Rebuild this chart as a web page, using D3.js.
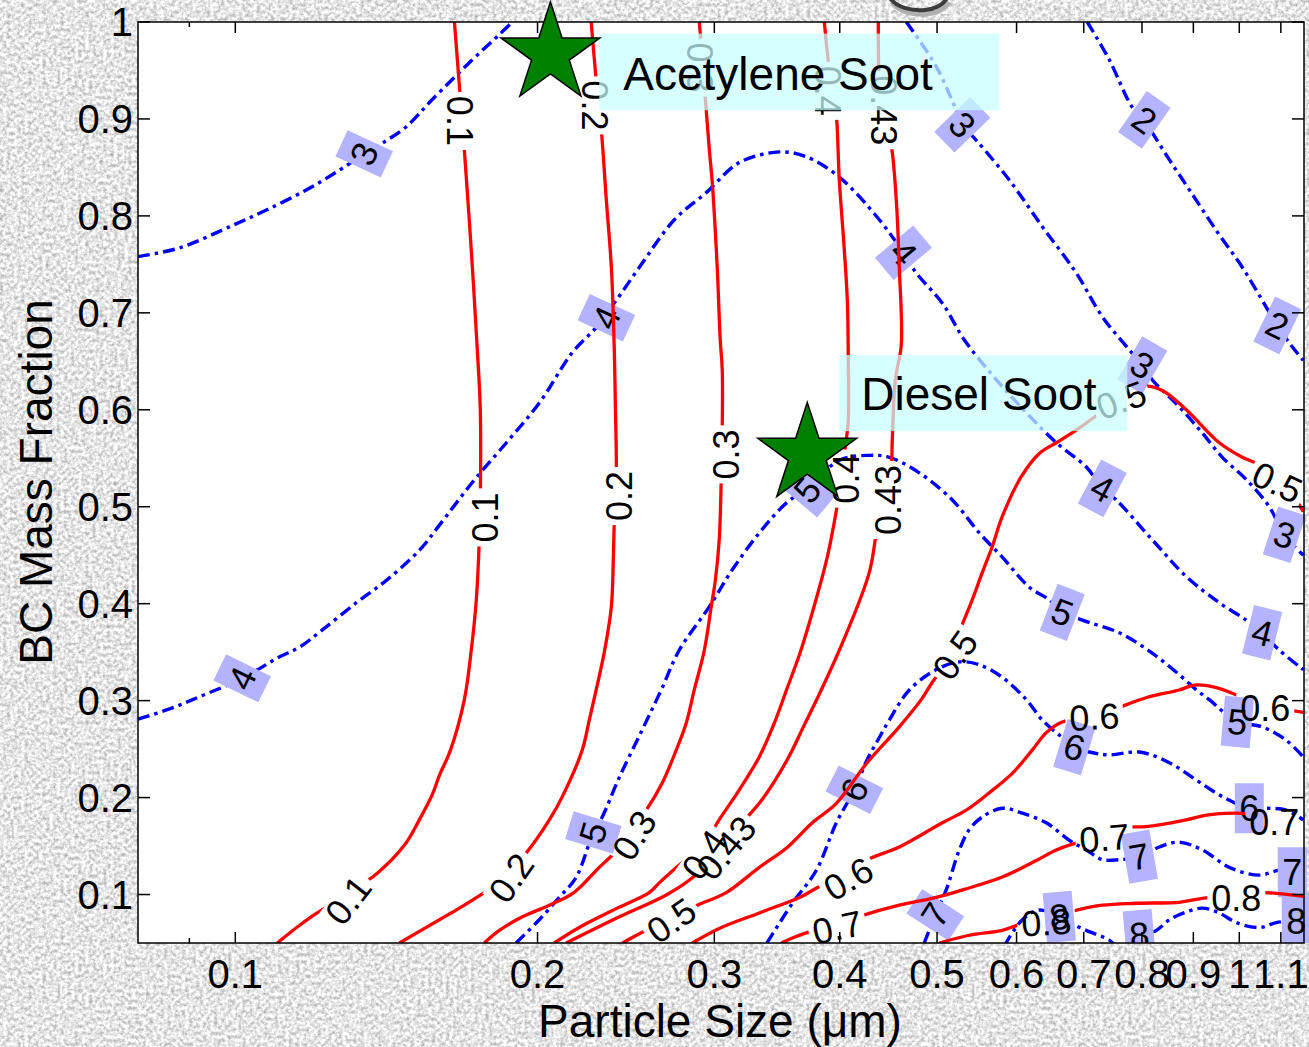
<!DOCTYPE html>
<html><head><meta charset="utf-8">
<script src="https://cdn.jsdelivr.net/npm/d3@7"></script>
<style>html,body{margin:0;padding:0;overflow:hidden;background:#ddd}</style>
</head><body>
<svg id="chart" width="1309" height="1047"></svg>
<script>
// ---------------- DATA (particle size in µm, BC mass fraction) ----------------
const xTicks = [0.1,0.2,0.3,0.4,0.5,0.6,0.7,0.8,0.9,1,1.1];
const xTickLabels = ["0.1","0.2","0.3","0.4","0.5","0.6","0.7","0.8","0.9","1","1.1"];
const xMinorTicks = [0.09];
const yTicks = [0.1,0.2,0.3,0.4,0.5,0.6,0.7,0.8,0.9,1];
const yTickLabels = ["0.1","0.2","0.3","0.4","0.5","0.6","0.7","0.8","0.9","1"];

// red (solid) contours
const c_0_1 = [[0.1653,1.000],[0.1676,0.920],[0.1691,0.868],[0.1718,0.765],[0.1742,0.662],[0.1754,0.600],[0.1754,0.507],[0.1750,0.466],[0.1738,0.404],[0.1718,0.352],[0.1691,0.301],[0.1638,0.249],[0.1597,0.223],[0.1571,0.203],[0.1525,0.177],[0.1474,0.151],[0.1385,0.122],[0.1278,0.097],[0.1198,0.079],[0.1158,0.068],[0.1101,0.050]];
const c_0_2 = [[0.2262,1.000],[0.2288,0.940],[0.2315,0.889],[0.2342,0.816],[0.2369,0.747],[0.2385,0.662],[0.2391,0.603],[0.2396,0.538],[0.2385,0.486],[0.2380,0.448],[0.2369,0.397],[0.2331,0.350],[0.2288,0.311],[0.2252,0.280],[0.2216,0.249],[0.2117,0.201],[0.2055,0.177],[0.1949,0.143],[0.1819,0.110],[0.1770,0.102],[0.1672,0.086],[0.1597,0.074],[0.1457,0.050]];
const c_0_3 = [[0.2898,1.000],[0.2925,0.951],[0.2945,0.909],[0.2966,0.868],[0.2986,0.834],[0.3020,0.747],[0.3041,0.672],[0.3055,0.641],[0.3055,0.579],[0.3048,0.528],[0.3034,0.466],[0.3007,0.424],[0.2979,0.397],[0.2932,0.352],[0.2865,0.311],[0.2813,0.277],[0.2749,0.249],[0.2662,0.215],[0.2566,0.187],[0.2469,0.165],[0.2385,0.143],[0.2304,0.128],[0.2174,0.102],[0.2055,0.089],[0.1932,0.077],[0.1832,0.063],[0.1770,0.050]];
const c_0_4 = [[0.3861,1.000],[0.3905,0.951],[0.3941,0.925],[0.3969,0.904],[0.3996,0.837],[0.4042,0.765],[0.4070,0.713],[0.4079,0.651],[0.4079,0.590],[0.4042,0.553],[0.4014,0.528],[0.3978,0.502],[0.3887,0.448],[0.3730,0.380],[0.3646,0.347],[0.3540,0.311],[0.3443,0.277],[0.3326,0.242],[0.3177,0.208],[0.3020,0.174],[0.2932,0.151],[0.2787,0.133],[0.2644,0.112],[0.2584,0.102],[0.2413,0.087],[0.2201,0.066],[0.2078,0.050]];
const c_0_43 = [[0.4370,1.000],[0.4380,0.940],[0.4420,0.909],[0.4502,0.873],[0.4554,0.816],[0.4585,0.747],[0.4606,0.667],[0.4544,0.631],[0.4512,0.569],[0.4502,0.541],[0.4440,0.507],[0.4360,0.478],[0.4280,0.432],[0.4023,0.359],[0.3834,0.311],[0.3688,0.275],[0.3546,0.239],[0.3348,0.198],[0.3199,0.174],[0.3091,0.153],[0.2859,0.118],[0.2687,0.0995],[0.2413,0.077],[0.2136,0.050]];
const c_0_5 = [[0.2430,0.050],[0.2543,0.061],[0.2719,0.076],[0.2885,0.089],[0.3083,0.102],[0.3326,0.128],[0.3540,0.148],[0.3756,0.174],[0.3969,0.194],[0.4259,0.236],[0.4585,0.273],[0.4822,0.301],[0.4946,0.319],[0.5142,0.344],[0.5286,0.376],[0.5420,0.404],[0.5546,0.432],[0.5675,0.459],[0.5807,0.490],[0.6065,0.531],[0.6321,0.555],[0.6573,0.566],[0.6881,0.579],[0.7388,0.602],[0.7629,0.610],[0.7824,0.618],[0.8005,0.624],[0.8381,0.620],[0.8855,0.600],[0.9552,0.566],[1.0069,0.551],[1.0469,0.543],[1.0910,0.525],[1.1139,0.520],[1.158,0.495]];
const c_0_6 = [[0.2852,0.050],[0.3034,0.065],[0.3326,0.081],[0.3646,0.097],[0.3852,0.110],[0.4070,0.117],[0.4231,0.134],[0.4585,0.149],[0.5061,0.174],[0.5346,0.187],[0.5636,0.205],[0.5942,0.225],[0.6220,0.249],[0.6424,0.267],[0.6663,0.278],[0.7170,0.283],[0.7594,0.293],[0.8077,0.303],[0.8715,0.311],[0.9021,0.316],[0.9443,0.314],[0.9932,0.306],[1.0614,0.292],[1.1215,0.290],[1.158,0.288]];
const c_0_7 = [[0.3498,0.050],[0.3604,0.056],[0.3773,0.063],[0.3996,0.070],[0.4202,0.078],[0.4585,0.089],[0.4991,0.097],[0.5310,0.105],[0.5807,0.118],[0.6278,0.135],[0.6573,0.146],[0.6929,0.154],[0.7338,0.160],[0.7718,0.169],[0.8077,0.170],[0.8855,0.177],[0.9271,0.182],[0.9932,0.184],[1.0398,0.182],[1.0836,0.177],[1.1215,0.175],[1.158,0.175]];
const c_0_8 = [[0.5026,0.050],[0.5384,0.058],[0.5807,0.063],[0.6038,0.069],[0.6394,0.074],[0.6771,0.082],[0.7304,0.089],[0.7896,0.091],[0.8715,0.092],[0.9188,0.096],[0.9932,0.099],[1.0517,0.102],[1.158,0.098]];

// blue (dash-dot) contours
const c_2 = [[0.7057,1.000],[0.7422,0.961],[0.7824,0.912],[0.8043,0.899],[0.8189,0.886],[0.8517,0.858],[0.8917,0.827],[0.9486,0.785],[1.0069,0.747],[1.0636,0.706],[1.0910,0.687],[1.1291,0.665],[1.158,0.651]];
const c_3a = [[0.0800,0.758],[0.0880,0.767],[0.0993,0.790],[0.1074,0.806],[0.1178,0.827],[0.1269,0.847],[0.1344,0.864],[0.1401,0.875],[0.1480,0.892],[0.1571,0.920],[0.1722,0.961],[0.1832,0.987],[0.1888,1.000]];
const c_3b = [[0.4660,1.000],[0.4991,0.954],[0.5225,0.909],[0.5298,0.894],[0.5471,0.878],[0.5901,0.837],[0.6364,0.789],[0.6881,0.741],[0.7304,0.696],[0.7770,0.662],[0.8005,0.646],[0.8189,0.631],[0.8715,0.603],[0.9188,0.576],[0.9618,0.551],[1.0162,0.528],[1.0712,0.500],[1.1087,0.471],[1.158,0.450]];
const c_4 = [[0.0800,0.281],[0.0863,0.292],[0.0921,0.304],[0.1016,0.323],[0.1106,0.345],[0.1158,0.355],[0.1221,0.373],[0.1320,0.401],[0.1414,0.424],[0.1525,0.455],[0.1597,0.481],[0.1722,0.525],[0.1862,0.566],[0.2008,0.607],[0.2166,0.659],[0.2288,0.685],[0.2342,0.700],[0.2396,0.713],[0.2526,0.747],[0.2737,0.796],[0.2945,0.824],[0.3177,0.855],[0.3482,0.866],[0.3705,0.861],[0.3996,0.840],[0.4380,0.796],[0.4629,0.762],[0.4768,0.741],[0.5061,0.710],[0.5323,0.672],[0.5728,0.631],[0.6136,0.597],[0.6573,0.566],[0.7041,0.541],[0.7304,0.519],[0.7542,0.507],[0.8189,0.466],[0.8855,0.428],[0.9552,0.401],[1.0162,0.383],[1.0539,0.370],[1.0961,0.352],[1.158,0.332]];
const c_5 = [[0.1904,0.050],[0.2008,0.074],[0.2102,0.097],[0.2186,0.118],[0.2273,0.164],[0.2320,0.180],[0.2413,0.221],[0.2543,0.270],[0.2656,0.311],[0.2768,0.352],[0.2966,0.397],[0.3126,0.435],[0.3326,0.473],[0.3540,0.504],[0.3713,0.519],[0.3996,0.548],[0.4280,0.553],[0.4481,0.551],[0.4800,0.535],[0.5178,0.507],[0.5509,0.473],[0.5807,0.448],[0.6178,0.417],[0.6468,0.404],[0.6663,0.391],[0.6977,0.383],[0.7594,0.370],[0.8189,0.349],[0.8775,0.324],[0.9063,0.311],[0.9335,0.301],[0.9955,0.278],[1.0539,0.273],[1.1139,0.259],[1.158,0.242]];
const c_6 = [[0.3385,0.050],[0.3588,0.091],[0.3791,0.125],[0.3969,0.174],[0.4136,0.208],[0.4259,0.239],[0.4380,0.262],[0.4481,0.280],[0.4692,0.311],[0.4991,0.332],[0.5262,0.340],[0.5509,0.337],[0.5807,0.324],[0.6136,0.301],[0.6364,0.280],[0.6663,0.262],[0.6850,0.252],[0.7089,0.247],[0.7422,0.244],[0.7951,0.247],[0.8517,0.236],[0.9063,0.218],[0.9618,0.201],[1.0232,0.189],[1.0636,0.189],[1.1139,0.187],[1.158,0.177]];
const c_7 = [[0.4855,0.050],[0.4980,0.079],[0.5107,0.105],[0.5262,0.146],[0.5384,0.167],[0.5546,0.180],[0.5807,0.189],[0.6080,0.184],[0.6424,0.174],[0.6771,0.156],[0.7041,0.146],[0.7304,0.136],[0.7594,0.136],[0.7951,0.139],[0.8324,0.149],[0.8715,0.154],[0.9188,0.146],[0.9773,0.128],[1.0469,0.120],[1.0961,0.125],[1.1291,0.123],[1.158,0.125]];
const c_8 = [[0.5834,0.047],[0.6080,0.074],[0.6321,0.084],[0.6618,0.077],[0.6771,0.071],[0.7041,0.063],[0.7422,0.053],[0.7594,0.045],[0.7951,0.057],[0.8267,0.063],[0.8517,0.074],[0.8855,0.082],[0.9188,0.086],[0.9552,0.081],[0.9932,0.071],[1.0469,0.066],[1.0885,0.071],[1.1395,0.074],[1.158,0.079]];

const redLevels = ["0.1","0.2","0.3","0.4","0.43","0.5","0.6","0.7","0.8"];
const redLines = [c_0_1,c_0_2,c_0_3,c_0_4,c_0_43,c_0_5,c_0_6,c_0_7,c_0_8];
const blueLines = [c_2,c_3a,c_3b,c_4,c_5,c_6,c_7,c_8];

// contour labels: [level, size, fraction, rotation in degrees]
const redLabels = [
 ["0.1",0.1672,0.898,90],["0.1",0.1775,0.489,-90],["0.1",0.1296,0.094,-52],
 ["0.2",0.2278,0.914,90],["0.2",0.2413,0.511,-90],["0.2",0.1883,0.117,-55],
 ["0.3",0.2898,0.953,90],["0.3",0.3083,0.554,-90],["0.3",0.2497,0.161,-58],
 ["0.4",0.3887,0.929,90],["0.4",0.4061,0.529,-90],["0.4",0.2932,0.141,-55],
 ["0.43",0.4420,0.909,90],["0.43",0.4471,0.507,-90],["0.43",0.3083,0.148,-50],
 ["0.5",0.2719,0.073,-35],["0.5",0.5213,0.347,-55],["0.5",0.7629,0.610,-20],["0.5",1.0910,0.525,25],
 ["0.6",0.4080,0.116,-30],["0.6",0.7170,0.283,-3],["0.6",1.0614,0.292,0],
 ["0.7",0.3978,0.066,-12],["0.7",0.7338,0.158,-5],["0.7",1.0836,0.174,0],
 ["0.8",0.6424,0.071,-3],["0.8",0.9932,0.096,0]
];
const blueLabels = [
 ["3",0.1344,0.864,-65],["3",0.5298,0.894,46],["3",0.8005,0.646,30],["3",1.1087,0.471,18],
 ["2",0.8043,0.899,35],["2",1.0910,0.687,26],
 ["4",0.1016,0.323,-64],["4",0.2342,0.695,-65],["4",0.4629,0.762,50],["4",0.7304,0.519,28],["4",1.0539,0.370,14],
 ["5",0.2273,0.164,-73],["5",0.3713,0.517,-50],["5",0.6663,0.391,21],["5",0.9955,0.278,5],
 ["6",0.4136,0.208,-63],["6",0.6850,0.252,17],["6",1.0232,0.189,0],
 ["7",0.4980,0.079,-57],["7",0.7951,0.139,-10],["7",1.1291,0.123,0],
 ["8",0.6618,0.077,-5],["8",0.7951,0.058,-5],["8",1.1395,0.072,0]
];

// markers and annotations
const starX = [0.2060, 0.3713];
const starY = [0.967, 0.554];
const noteText = ["Acetylene Soot", "Diesel Soot"];
const noteX = [0.2435, 0.4202];
const noteY = [0.930, 0.600];
const noteBoxX = [[0.2304, 0.5767], [0.3996, 0.7735]];
const noteBoxY = [[0.909, 0.988], [0.578, 0.6565]];

// ---------------- DRAWING ----------------
const W = 1309, H = 1047;
const FONT = "'Liberation Sans', Arial, Helvetica, sans-serif";
const x = d3.scaleLog().domain([0.08, 1.16]).range([138, 1304]);
const y = d3.scaleLinear().domain([0.05, 1]).range([943, 22]);
const [X0, X1] = x.range(), [Y1, Y0] = y.range();

const svg = d3.select("#chart");
const defs = svg.append("defs");

// granite background texture
const flt = defs.append("filter").attr("id", "granite")
  .attr("filterUnits", "userSpaceOnUse").attr("x", 0).attr("y", 0).attr("width", W).attr("height", H)
  .attr("color-interpolation-filters", "sRGB");
flt.append("feTurbulence").attr("type", "fractalNoise").attr("baseFrequency", 0.28).attr("numOctaves", 4).attr("seed", 11);
flt.append("feColorMatrix").attr("type", "matrix")
  .attr("values", "0.6 0 0 0 0.6  0.6 0 0 0 0.6  0.6 0 0 0 0.6  0 0 0 0 1");
svg.append("rect").attr("width", W).attr("height", H).attr("fill", "#e0e0e0").attr("filter", "url(#granite)");

// cut-off title fragment at the top (bottom of a large letter's descender)
svg.append("path").attr("d", "M890,-2 C897,8 912,11 925,10 C936,9 943,5 947,-2")
  .attr("fill", "none").attr("stroke", "#b0b0b0").attr("stroke-width", 5).attr("transform", "translate(2,4)");
svg.append("path").attr("d", "M890,-2 C897,8 912,11 925,10 C936,9 943,5 947,-2")
  .attr("fill", "none").attr("stroke", "#3c3c3c").attr("stroke-width", 4);

// plot area
svg.append("rect").attr("x", X0).attr("y", Y0).attr("width", X1 - X0).attr("height", Y1 - Y0).attr("fill", "#fff");

defs.append("clipPath").attr("id", "plotclip").append("rect")
  .attr("x", X0).attr("y", Y0).attr("width", X1 - X0).attr("height", Y1 - Y0);
defs.append("clipPath").attr("id", "labelclip").append("rect")
  .attr("x", X0).attr("y", 0).attr("width", X1 - X0 + 12).attr("height", Y1);

const line = d3.line().x(d => x(d[0])).y(d => y(d[1])).curve(d3.curveCatmullRom.alpha(0.5));

// blue dash-dot contours
svg.append("g").attr("clip-path", "url(#plotclip)")
  .selectAll("path").data(blueLines).join("path")
  .attr("d", line).attr("fill", "none").attr("stroke", "#0000ff")
  .attr("stroke-width", 3.4).attr("stroke-dasharray", "12,5,3.5,5");

// blue labels with lavender boxes
const LFS = 36;
const bl = svg.append("g").attr("clip-path", "url(#labelclip)")
  .selectAll("g").data(blueLabels).join("g")
  .attr("transform", d => `translate(${x(d[1])},${y(d[2])}) rotate(${d[3]})`);
bl.each(function(d) {
  const g = d3.select(this);
  const t = g.append("text").attr("text-anchor", "middle").attr("dominant-baseline", "central")
    .attr("font-family", FONT).attr("font-size", LFS).attr("fill", "#000").text(d[0]);
  const w = t.node().getComputedTextLength() + 9;
  g.insert("rect", "text").attr("x", -w / 2).attr("y", -25).attr("width", w).attr("height", 50).attr("fill", "#b3b3ff");
});

// red contours (masked under their own labels)
const redG = svg.append("g").attr("clip-path", "url(#plotclip)");
const redLabelG = svg.append("g").attr("clip-path", "url(#labelclip)");
const rl = redLabelG.selectAll("text").data(redLabels).join("text")
  .attr("transform", d => `translate(${x(d[1])},${y(d[2])}) rotate(${d[3]})`)
  .attr("text-anchor", "middle").attr("dominant-baseline", "central")
  .attr("font-family", FONT).attr("font-size", LFS).attr("fill", "#000").text(d => d[0]);
const widths = rl.nodes().map(n => n.getComputedTextLength());

redLevels.forEach((lev, i) => {
  const m = defs.append("mask").attr("id", "rmask" + i).attr("maskUnits", "userSpaceOnUse")
    .attr("x", 0).attr("y", 0).attr("width", W).attr("height", H);
  m.append("rect").attr("x", 0).attr("y", 0).attr("width", W).attr("height", H).attr("fill", "#fff");
  redLabels.forEach((d, j) => {
    if (d[0] !== lev) return;
    const w = widths[j] + 8;
    m.append("rect").attr("x", -w / 2).attr("y", -15).attr("width", w).attr("height", 30).attr("fill", "#000")
      .attr("transform", `translate(${x(d[1])},${y(d[2])}) rotate(${d[3]})`);
  });
  redG.append("path").datum(redLines[i]).attr("d", line).attr("fill", "none")
    .attr("stroke", "#ff0000").attr("stroke-width", 3.3).attr("mask", `url(#rmask${i})`);
});
redLabelG.raise();

// axes frame and ticks
const ax = svg.append("g").attr("stroke", "#000").attr("stroke-width", 1.5);
ax.append("rect").attr("x", X0).attr("y", Y0).attr("width", X1 - X0).attr("height", Y1 - Y0).attr("fill", "none");
xTicks.forEach(v => {
  ax.append("line").attr("x1", x(v)).attr("x2", x(v)).attr("y1", Y1).attr("y2", Y1 - 11);
  ax.append("line").attr("x1", x(v)).attr("x2", x(v)).attr("y1", Y0).attr("y2", Y0 + 11);
});
xMinorTicks.forEach(v => {
  ax.append("line").attr("x1", x(v)).attr("x2", x(v)).attr("y1", Y1).attr("y2", Y1 - 5);
  ax.append("line").attr("x1", x(v)).attr("x2", x(v)).attr("y1", Y0).attr("y2", Y0 + 5);
});
yTicks.forEach(v => {
  ax.append("line").attr("x1", X0).attr("x2", X0 + 12).attr("y1", y(v)).attr("y2", y(v));
  ax.append("line").attr("x1", X1).attr("x2", X1 - 12).attr("y1", y(v)).attr("y2", y(v));
});

// annotation boxes
noteText.forEach((t, i) => {
  svg.append("rect").attr("x", x(noteBoxX[i][0])).attr("y", y(noteBoxY[i][1]))
    .attr("width", x(noteBoxX[i][1]) - x(noteBoxX[i][0])).attr("height", y(noteBoxY[i][0]) - y(noteBoxY[i][1]))
    .attr("fill", "rgb(200,255,255)").attr("fill-opacity", 0.72);
  svg.append("text").attr("x", x(noteX[i])).attr("y", y(noteY[i])).attr("font-family", FONT)
    .attr("font-size", 46).attr("fill", "#000").text(t);
});

// star markers
const starPath = (R) => {
  const pts = d3.range(10).map(k => {
    const a = -Math.PI / 2 + k * Math.PI / 5, r = k % 2 ? R * 0.382 : R;
    return [r * Math.cos(a), r * Math.sin(a)];
  });
  return "M" + pts.map(p => p.join(",")).join("L") + "Z";
};
svg.append("g").selectAll("path").data(starX).join("path")
  .attr("d", starPath(52)).attr("transform", (d, i) => `translate(${x(d)},${y(starY[i])})`)
  .attr("fill", "#008000").attr("stroke", "#000").attr("stroke-width", 1.5).attr("stroke-linejoin", "miter");

// tick labels
svg.append("g").selectAll("text").data(xTicks).join("text")
  .attr("x", d => x(d)).attr("y", 988).attr("text-anchor", "middle")
  .attr("font-family", FONT).attr("font-size", 40).attr("fill", "#000")
  .text((d, i) => xTickLabels[i]);
svg.append("g").selectAll("text").data(yTicks).join("text")
  .attr("x", 133).attr("y", d => y(d) + 14).attr("text-anchor", "end")
  .attr("font-family", FONT).attr("font-size", 40).attr("fill", "#000")
  .text((d, i) => yTickLabels[i]);

// axis titles
svg.append("text").attr("x", 720).attr("y", 1037).attr("text-anchor", "middle")
  .attr("font-family", FONT).attr("font-size", 46).attr("fill", "#000").text("Particle Size (μm)");
svg.append("text").attr("transform", "translate(52,482) rotate(-90)").attr("text-anchor", "middle")
  .attr("font-family", FONT).attr("font-size", 46).attr("fill", "#000").text("BC Mass Fraction");
</script>
</body></html>
